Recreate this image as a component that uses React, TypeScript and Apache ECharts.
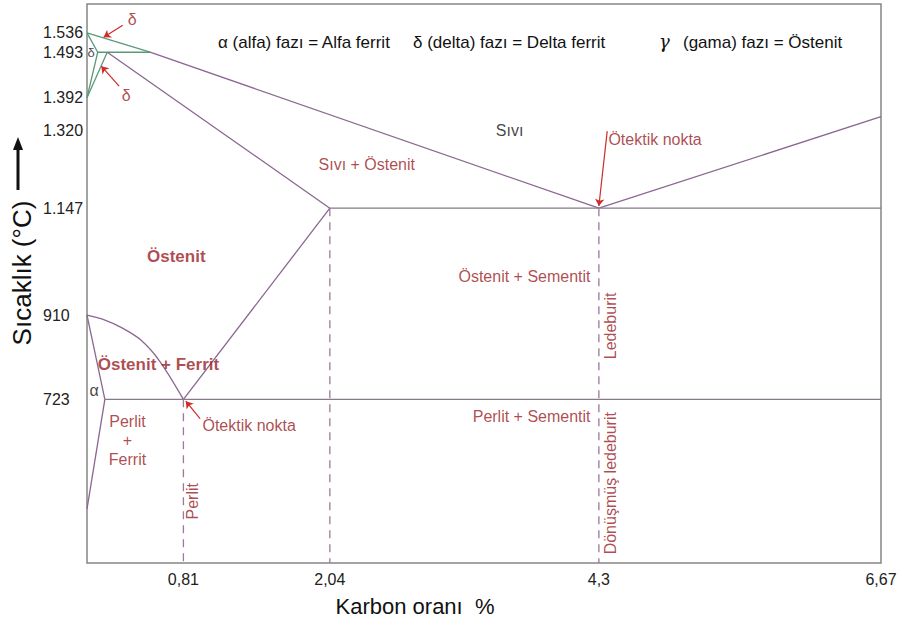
import React, { useEffect, useRef } from "react";
import * as echarts from "echarts";

// ---- data (carbon %, temperature °C) ----
const carbonTicks = [0.81, 2.04, 4.3, 6.67];
const tempTicks = [723, 910, 1147, 1320, 1392, 1493, 1536];

const liquidusDelta = [[0, 1536], [0.53, 1493]];
const liquidusGamma = [[0.53, 1493], [4.3, 1147]];
const liquidusCementite = [[4.3, 1147], [6.67, 1350]];
const deltaBoundary = [[0, 1536], [0.09, 1493], [0, 1392]];
const deltaGamma = [[0, 1392], [0.17, 1493]];
const peritectic = [[0.09, 1493], [0.53, 1493]];
const solidus = [[0.17, 1493], [2.04, 1147]];
const eutectic = [[2.04, 1147], [6.67, 1147]];
const acm = [[0.81, 723], [2.04, 1147]];
const a3 = [[0, 910], [0.13, 901], [0.29, 882], [0.45, 855], [0.61, 808], [0.81, 723]];
const alphaA3 = [[0, 910], [0.15, 723]];
const alphaSolvus = [[0.15, 723], [0, 480]];
const eutectoid = [[0.15, 723], [6.67, 723]];
const dashPerlit = [[0.81, 723], [0.81, 360]];
const dashLimit = [[2.04, 1147], [2.04, 360]];
const dashLedeburit = [[4.3, 1147], [4.3, 360]];

// annotation texts and anchors (data coordinates)
const regionTexts = [
  { text: "Sıvı", at: [3.55, 1320], kind: "black" },
  { text: "Sıvı + Östenit", at: [2.35, 1245], kind: "red" },
  { text: "Ötektik nokta", at: [4.38, 1300], kind: "redLeft" },
  { text: "Östenit", at: [0.75, 1040], kind: "redBold" },
  { text: "Östenit + Sementit", at: [4.23, 995], kind: "redRight" },
  { text: "Ledeburit", at: [4.4, 886], kind: "redVertical" },
  { text: "Östenit + Ferrit", at: [0.6, 800], kind: "redBold" },
  { text: "α", at: [0.06, 742], kind: "black" },
  { text: "Perlit\n+\nFerrit", at: [0.34, 632], kind: "red" },
  { text: "Ötektik nokta", at: [0.97, 664], kind: "redLeft" },
  { text: "Perlit + Sementit", at: [4.23, 684], kind: "redRight" },
  { text: "Perlit", at: [0.89, 497], kind: "redVertical" },
  { text: "Dönüşmüş ledeburit", at: [4.4, 537], kind: "redVertical" },
  { text: "δ", at: [0.035, 1492], kind: "blackSmall" },
  { text: "δ", at: [0.38, 1566], kind: "red" },
  { text: "δ", at: [0.33, 1398], kind: "red" },
];

const pointerArrows = [
  [[4.37, 1318], [4.3, 1152]],
  [[0.95, 680], [0.83, 719]],
  [[0.3, 1553], [0.14, 1526]],
  [[0.27, 1418], [0.12, 1462]],
];

const RED = "#9a1c25";
const LINE = "#8a6690";
const GRAY = "#857b88";
const GREEN = "#5a9a7a";
const DASH = "#9c7899";
const FONT = "'Liberation Sans', Arial, sans-serif";

const labelStyles: Record<string, any> = {
  black: { color: "#111", fontSize: 16 },
  blackSmall: { color: "#111", fontSize: 13 },
  red: { color: RED, fontSize: 16, lineHeight: 19 },
  redBold: { color: RED, fontSize: 17, fontWeight: "bold" },
  redLeft: { color: RED, fontSize: 16, align: "left" },
  redRight: { color: RED, fontSize: 16, align: "right" },
  redVertical: { color: RED, fontSize: 16, rotate: 90 },
};

function lineSeries(data: number[][], color: string, dashed = false, smooth = false) {
  return {
    type: "line",
    data,
    symbol: "none",
    showSymbol: false,
    silent: true,
    smooth: smooth ? 0.3 : false,
    z: 3,
    lineStyle: { color, width: 1.3, type: dashed ? [8, 6] : "solid" },
  };
}

export default function App() {
  const ref = useRef<HTMLDivElement>(null);
  useEffect(() => {
    if (!ref.current) return;
    const chart = echarts.init(ref.current, undefined, { renderer: "svg" });
    const option: any = {
      animation: false,
      backgroundColor: "#ffffff",
      textStyle: { fontFamily: FONT },
      grid: {
        left: 87,
        top: 4,
        right: 36,
        bottom: 65,
        show: true,
        borderColor: "#858585",
        borderWidth: 1.5,
        backgroundColor: "#ffffff",
      },
      xAxis: {
        type: "value",
        min: 0,
        max: 6.67,
        splitLine: { show: false },
        axisLine: { show: false },
        axisTick: { show: false },
        axisLabel: {
          customValues: carbonTicks,
          formatter: (v: number) => String(v).replace(".", ","),
          color: "#222",
          fontSize: 16,
          fontFamily: FONT,
          margin: 8,
        },
      },
      yAxis: {
        type: "value",
        min: 360,
        max: 1600,
        splitLine: { show: false },
        axisLine: { show: false },
        axisTick: { show: false },
        axisLabel: {
          customValues: tempTicks,
          formatter: (v: number) =>
            v >= 1000 ? `${Math.floor(v / 1000)}.${String(v % 1000).padStart(3, "0")}` : String(v),
          color: "#222",
          fontSize: 16,
          fontFamily: FONT,
          align: "left",
          margin: 44,
        },
      },
      series: [
        lineSeries(liquidusDelta, GREEN),
        lineSeries(liquidusGamma, LINE),
        lineSeries(liquidusCementite, LINE),
        lineSeries(deltaBoundary, GREEN),
        lineSeries(deltaGamma, GREEN),
        lineSeries(peritectic, GREEN),
        lineSeries(solidus, LINE),
        lineSeries(eutectic, GRAY),
        lineSeries(acm, LINE),
        lineSeries(a3, LINE, false, true),
        lineSeries(alphaA3, LINE),
        lineSeries(alphaSolvus, LINE),
        lineSeries(eutectoid, GRAY),
        lineSeries(dashPerlit, DASH, true),
        lineSeries(dashLimit, DASH, true),
        lineSeries(dashLedeburit, DASH, true),
        {
          type: "lines",
          coordinateSystem: "cartesian2d",
          symbol: ["none", "arrow"],
          symbolSize: 7,
          silent: true,
          z: 5,
          lineStyle: { color: "#d02a2a", width: 1.2, opacity: 1 },
          data: pointerArrows.map((c) => ({ coords: c })),
        },
        {
          type: "scatter",
          symbolSize: 0,
          silent: true,
          z: 6,
          data: regionTexts.map((r) => ({
            value: r.at,
            label: {
              show: true,
              position: "inside",
              formatter: r.text,
              fontFamily: FONT,
              ...labelStyles[r.kind],
            },
          })),
        },
      ],
      graphic: [
        {
          type: "text",
          left: 218,
          top: 34,
          style: { text: "α (alfa) fazı = Alfa ferrit", fontSize: 17, fill: "#111", fontFamily: FONT },
        },
        {
          type: "text",
          left: 413,
          top: 34,
          style: { text: "δ (delta) fazı = Delta ferrit", fontSize: 17, fill: "#111", fontFamily: FONT },
        },
        {
          type: "text",
          left: 659,
          top: 32,
          style: { text: "γ", fontSize: 18, fontStyle: "italic", fill: "#111", fontFamily: "'DejaVu Serif', serif" },
        },
        {
          type: "text",
          left: 683,
          top: 34,
          style: { text: "(gama) fazı = Östenit", fontSize: 17, fill: "#111", fontFamily: FONT },
        },
        {
          type: "text",
          x: 22,
          y: 273,
          rotation: Math.PI / 2,
          style: {
            text: "Sıcaklık (°C)",
            fontSize: 26,
            fill: "#111",
            fontFamily: FONT,
            align: "center",
            verticalAlign: "middle",
          },
        },
        {
          type: "line",
          shape: { x1: 18, y1: 190, x2: 18, y2: 148 },
          style: { stroke: "#111", lineWidth: 3 },
        },
        {
          type: "polygon",
          shape: { points: [[13, 150], [23, 150], [18, 137]] },
          style: { fill: "#111" },
        },
        {
          type: "text",
          x: 415,
          y: 606,
          style: {
            text: "Karbon oranı  %",
            fontSize: 22,
            fill: "#111",
            fontFamily: FONT,
            align: "center",
            verticalAlign: "middle",
          },
        },
      ],
    };
    chart.setOption(option);
    return () => chart.dispose();
  }, []);
  return (
    <div
      ref={ref}
      style={{ position: "fixed", left: 0, top: 0, width: 917, height: 628, background: "#fff" }}
    />
  );
}
